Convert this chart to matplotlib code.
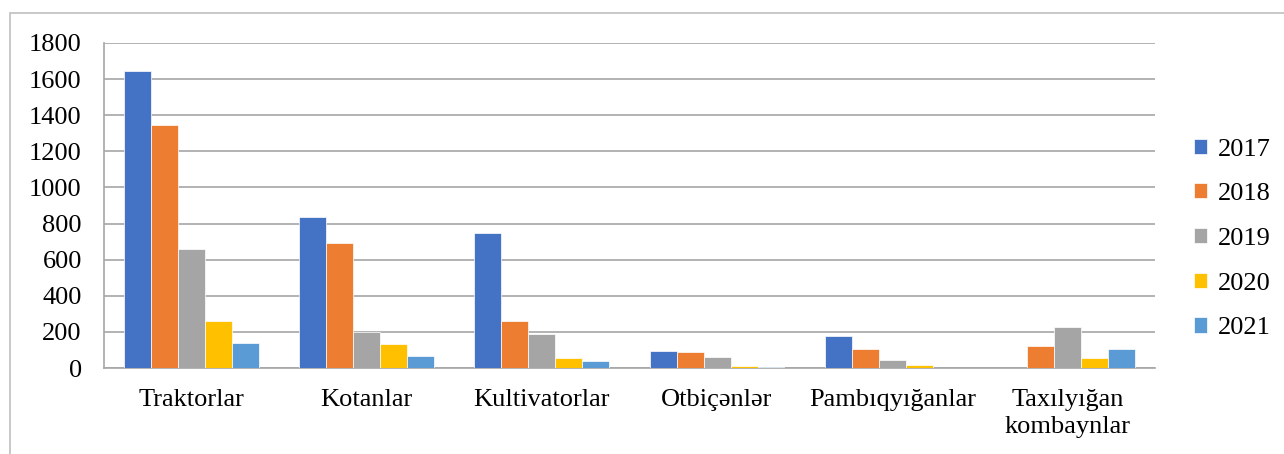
import numpy as np
import matplotlib
matplotlib.use("Agg")
import matplotlib.pyplot as plt
from matplotlib.patches import Rectangle

# Kategoriyalar ve illere gore deyerler
categories = ["Traktorlar", "Kotanlar", "Kultivatorlar", "Otbiçənlər",
              "Pambıqyığanlar", "Taxılyığan\nkombaynlar"]
years = ["2017", "2018", "2019", "2020", "2021"]
v2017 = [1645, 838, 748, 96, 180, 0]
v2018 = [1346, 692, 260, 90, 103, 120]
v2019 = [659, 199, 187, 63, 46, 225]
v2020 = [262, 133, 54, 10, 15, 57]
v2021 = [137, 66, 39, 6, 0, 107]
colors = ["#4472c4", "#ed7d31", "#a5a5a5", "#ffc000", "#5b9bd5"]

plt.rcParams['font.family'] = ['Liberation Serif', 'DejaVu Serif']

fig = plt.figure(figsize=(12.84, 4.54), dpi=100)
ax = fig.add_axes([0.081, 0.1894, 0.8185, 0.7159])

# cercive
fig.patches.append(Rectangle((10/1284, -0.1), 1.2, 1 - 13/454 + 0.1,
                             transform=fig.transFigure, fill=False,
                             edgecolor="#bfbfbf", linewidth=1.2))

x = np.arange(len(categories))
w = 0.154
series = [v2017, v2018, v2019, v2020, v2021]
for i, (vals, c, yr) in enumerate(zip(series, colors, years)):
    ax.bar(x + (i - 2) * w, vals, width=w, color=c, label=yr,
           edgecolor="white", linewidth=0.5, zorder=3)

ax.set_xlim(-0.5, len(categories) - 0.5)
ax.set_ylim(0, 1800)
ax.set_yticks(range(0, 1801, 200))
ax.set_xticks(x)
ax.set_xticklabels(categories, fontsize=19, linespacing=1.3)
ax.tick_params(axis='y', labelsize=19, length=0, pad=16)
ax.tick_params(axis='x', length=0, pad=15)
ax.grid(axis='y', color="#a6a6a6", linewidth=1.2, zorder=0)
for s in ["top", "right"]:
    ax.spines[s].set_visible(False)
ax.spines["left"].set_color("#a6a6a6")
ax.spines["bottom"].set_color("#a6a6a6")
ax.spines["left"].set_linewidth(1.2)
ax.spines["bottom"].set_linewidth(1.2)

leg = ax.legend(loc="center left", bbox_to_anchor=(1.037, 0.397), frameon=False,
                fontsize=19, handlelength=0.5, handleheight=0.5,
                handletextpad=0.4, labelspacing=0.86, borderaxespad=0,
                borderpad=0)

fig.savefig("out.png", dpi=100)
